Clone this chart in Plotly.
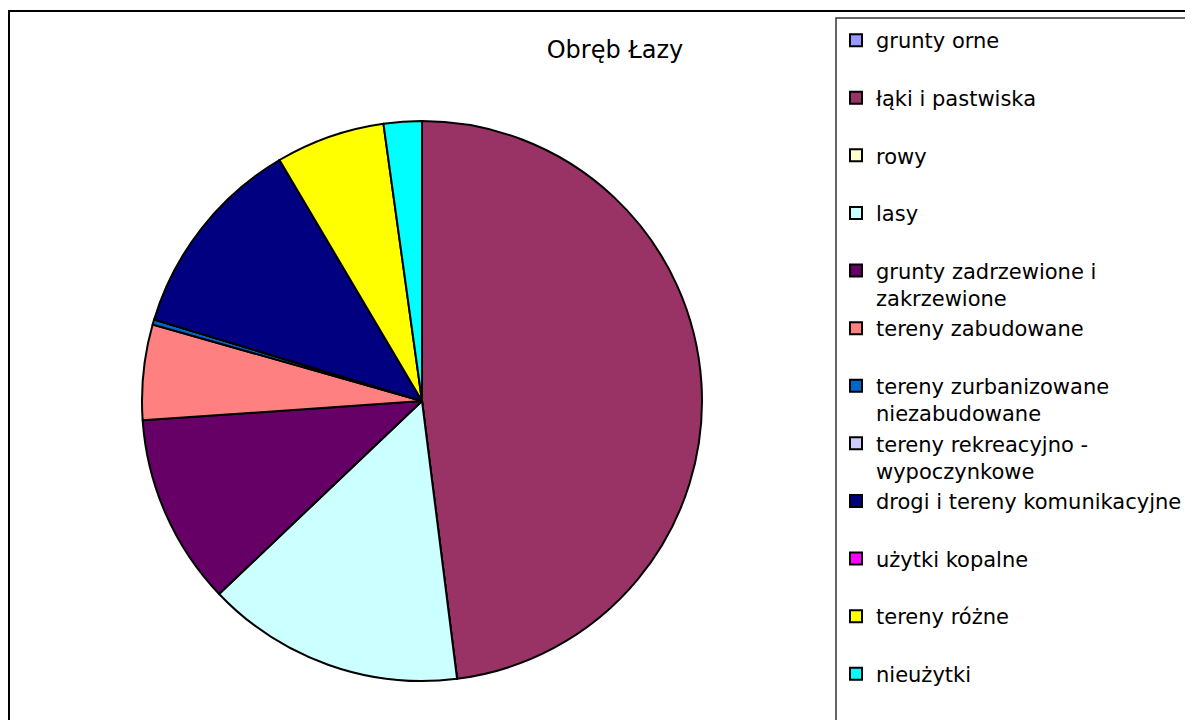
import plotly.graph_objects as go

categories = [
    "grunty orne",
    "łąki i pastwiska",
    "rowy",
    "lasy",
    "grunty zadrzewione i<br>zakrzewione",
    "tereny zabudowane",
    "tereny zurbanizowane<br>niezabudowane",
    "tereny rekreacyjno -<br>wypoczynkowe",
    "drogi i tereny komunikacyjne",
    "użytki kopalne",
    "tereny różne",
    "nieużytki",
]
values = [0.0, 48.0, 0.0, 14.9, 11.0, 5.5, 0.3, 0.0, 11.8, 0.0, 6.3, 2.2]
colors = [
    "#9999FF", "#993366", "#FFFFCC", "#CCFFFF", "#660066", "#FF8080",
    "#0066CC", "#CCCCFF", "#000080", "#FF00FF", "#FFFF00", "#00FFFF",
]
title_text = "Obręb Łazy"

# page body has an 8px margin; figure sized to fit the window
OFF = 8
W, H = 1193 - OFF, 720 - OFF


def px(x):
    return (x - OFF) / W


def py(y):
    return 1 - (y - OFF) / H


# pad single-line labels (except the last) so legend entries are evenly spaced
labels = [
    c if ("<br>" in c or i == len(categories) - 1) else c + "<br>\u00a0"
    for i, c in enumerate(categories)
]

fig = go.Figure(
    go.Pie(
        labels=labels,
        values=values,
        sort=False,
        direction="clockwise",
        rotation=0,
        textinfo="none",
        hoverinfo="label+percent",
        marker=dict(colors=colors, line=dict(color="black", width=2)),
        domain=dict(x=[px(142), px(702)], y=[py(681), py(121)]),
    )
)

fig.update_layout(
    width=W,
    height=H,
    margin=dict(l=0, r=0, t=0, b=0),
    paper_bgcolor="white",
    plot_bgcolor="white",
    font=dict(family="DejaVu Sans", color="black"),
    title=dict(
        text=title_text,
        x=px(615),
        xanchor="center",
        y=py(50),
        yanchor="middle",
        font=dict(family="DejaVu Sans", size=24, color="black"),
    ),
    showlegend=True,
    legend=dict(
        x=px(836),
        xanchor="left",
        y=py(20),
        yanchor="top",
        valign="top",
        font=dict(family="DejaVu Sans", size=21, color="black"),
        bgcolor="rgba(0,0,0,0)",
        borderwidth=0,
        traceorder="normal",
    ),
    shapes=[
        dict(type="rect", xref="paper", yref="paper",
             x0=px(9), y0=py(11), x1=px(1210), y1=py(740),
             line=dict(color="black", width=2)),
        dict(type="rect", xref="paper", yref="paper",
             x0=px(836), y0=py(18), x1=px(1210), y1=py(740),
             line=dict(color="#333333", width=1.5)),
    ],
)

fig.write_html("out.html")
